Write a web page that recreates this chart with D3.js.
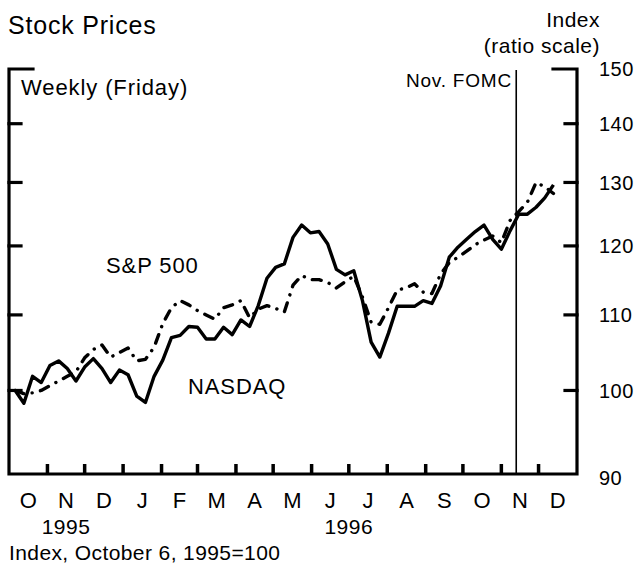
<!DOCTYPE html>
<html>
<head>
<meta charset="utf-8">
<script src="https://cdn.jsdelivr.net/npm/d3@7"></script>
<style>
  html, body { margin: 0; padding: 0; background: #fff; }
  text { font-family: "Liberation Sans", Arial, Helvetica, sans-serif; fill: #000; }
</style>
</head>
<body>
<svg id="chart" width="637" height="567"></svg>
<script>
// ---------- data ----------
const startDate = "1995-10-06";   // first Friday
const weekCount = 63;
const nasdaq = [
  100.0, 98.4, 101.8, 101.0, 103.2, 103.8, 102.8, 101.2, 103.0, 104.1,
  102.8, 101.0, 102.6, 102.0, 99.3, 98.5, 101.8, 103.9, 106.9, 107.2,
  108.4, 108.3, 106.7, 106.7, 108.3, 107.3, 109.3, 108.4, 111.3, 115.2,
  116.8, 117.3, 121.3, 123.2, 122.0, 122.2, 120.3, 116.5, 115.7, 116.3,
  112.0, 106.3, 104.3, 107.5, 111.2, 111.2, 111.2, 112.0, 111.6, 114.1,
  118.3, 119.8, 121.0, 122.2, 123.2, 121.0, 119.5, 122.3, 124.9, 124.9,
  126.0, 127.5, 129.6
];
const sp500 = [
  100.0, 99.6, 99.7, 100.0, 100.6, 101.2, 101.8, 102.4, 104.2, 105.3,
  105.9, 104.3, 104.9, 105.5, 103.8, 104.0, 105.6, 108.8, 111.0, 112.0,
  111.4, 110.6, 110.0, 109.4, 111.0, 111.4, 112.0, 109.6, 110.8, 111.3,
  110.9, 110.4, 114.2, 115.6, 115.0, 115.0, 114.6, 113.8, 114.7, 115.5,
  112.5, 109.0, 108.7, 111.0, 113.5, 113.8, 114.4, 113.2, 113.0, 115.8,
  117.5, 118.3, 119.2, 120.2, 120.9, 121.5, 120.5, 123.9, 125.3, 126.8,
  130.0, 129.3, 128.2
];
const monthLabels = ["O","N","D","J","F","M","A","M","J","J","A","S","O","N","D"];
const yTicks = [90, 100, 110, 120, 130, 140, 150];
const yearLabels = [{text: "1995", date: "1995-11-16"}, {text: "1996", date: "1996-07-01"}];
const fomcDate = "1996-11-13";

// ---------- layout ----------
const svg = d3.select("#chart");
const L = 9, R = 577, T = 69, B = 474;
const parse = d3.utcParse("%Y-%m-%d");
const x = d3.scaleUtc().domain([parse("1995-10-01"), parse("1997-01-01")]).range([L, R]);
const y = d3.scaleLog().domain([90, 150]).range([B, T]);

const dates = d3.range(weekCount).map(i => d3.utcDay.offset(parse(startDate), 7 * i));

// frame
const frame = svg.append("g").attr("fill", "none").attr("stroke", "#000").attr("stroke-width", 3.2).attr("stroke-linecap", "square");
frame.append("path").attr("d", `M${L + 24},${T} H${L} V${B} H${R} V${T} H${R - 24}`).attr("stroke-linejoin", "miter");

// y ticks (both sides, inward)
yTicks.filter(v => v > 90 && v < 150).forEach(v => {
  frame.append("line").attr("x1", L).attr("x2", L + 12).attr("y1", y(v)).attr("y2", y(v));
  frame.append("line").attr("x1", R - 12).attr("x2", R).attr("y1", y(v)).attr("y2", y(v));
});

// month ticks
const monthStarts = d3.utcMonth.range(parse("1995-11-01"), parse("1997-01-01"));
monthStarts.forEach(d => {
  frame.append("line").attr("x1", x(d)).attr("x2", x(d)).attr("y1", B).attr("y2", B - 10).attr("stroke-width", 3.5).attr("stroke-linecap", "butt");
});

// FOMC line
svg.append("line").attr("x1", x(parse(fomcDate))).attr("x2", x(parse(fomcDate)))
  .attr("y1", T + 1).attr("y2", B).attr("stroke", "#000").attr("stroke-width", 1.6);

// lines
const line = d3.line().x((d, i) => x(dates[i])).y(d => y(d));
svg.append("path").datum(sp500).attr("d", line).attr("fill", "none").attr("stroke", "#000")
  .attr("stroke-width", 3.4).attr("stroke-linecap", "round").attr("stroke-linejoin", "round")
  .attr("stroke-dasharray", "9,8.5,0.1,8.5");
svg.append("path").datum(nasdaq).attr("d", line).attr("fill", "none").attr("stroke", "#000")
  .attr("stroke-width", 3.4).attr("stroke-linejoin", "round");

// y labels
yTicks.forEach(v => {
  svg.append("text").attr("x", 599).attr("y", v === 90 ? y(v) + 4 : y(v)).attr("dy", "0.36em")
    .attr("font-size", 20).attr("letter-spacing", 0.5).text(v);
});

// month labels
monthLabels.forEach((m, i) => {
  const a = d3.utcMonth.offset(parse("1995-10-01"), i), b = d3.utcMonth.offset(a, 1);
  svg.append("text").attr("x", (x(a) + x(b)) / 2).attr("y", 508).attr("text-anchor", "middle")
    .attr("font-size", 22).text(m);
});
yearLabels.forEach(yl => {
  svg.append("text").attr("x", x(parse(yl.date))).attr("y", 534).attr("text-anchor", "middle")
    .attr("font-size", 21).attr("letter-spacing", 0.5).text(yl.text);
});

// titles & annotations
svg.append("text").attr("x", 8).attr("y", 34).attr("font-size", 25).attr("letter-spacing", 0.8).text("Stock Prices");
svg.append("text").attr("x", 600).attr("y", 27).attr("text-anchor", "end").attr("font-size", 21).attr("letter-spacing", 0.5).text("Index");
svg.append("text").attr("x", 600).attr("y", 53).attr("text-anchor", "end").attr("font-size", 21).attr("letter-spacing", 0.5).text("(ratio scale)");
svg.append("text").attr("x", 21).attr("y", 95).attr("font-size", 22).attr("letter-spacing", 0.9).text("Weekly (Friday)");
svg.append("text").attr("x", 106).attr("y", 273).attr("font-size", 22).attr("letter-spacing", 0.9).text("S&P 500");
svg.append("text").attr("x", 188).attr("y", 394).attr("font-size", 22).attr("letter-spacing", 0.9).text("NASDAQ");
svg.append("text").attr("x", 512).attr("y", 87).attr("text-anchor", "end").attr("font-size", 19).attr("letter-spacing", 0.8).text("Nov. FOMC");
svg.append("text").attr("x", 9).attr("y", 560).attr("font-size", 21).attr("letter-spacing", 0.4).text("Index, October 6, 1995=100");
</script>
</body>
</html>
